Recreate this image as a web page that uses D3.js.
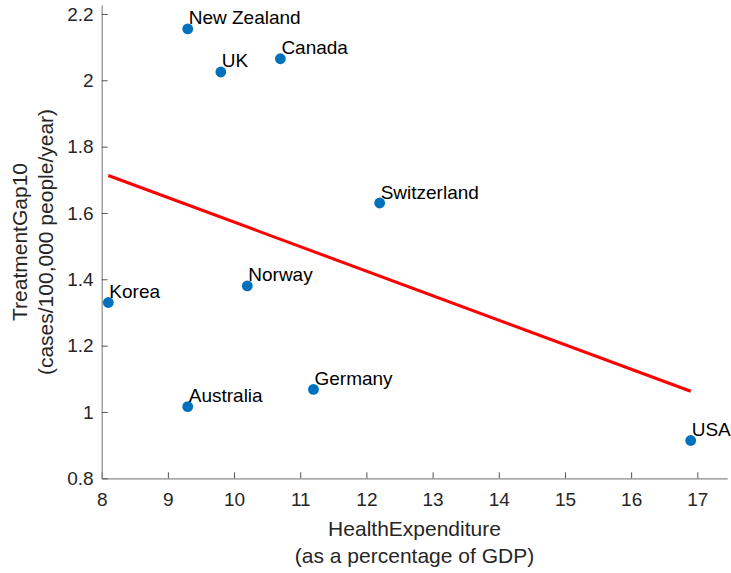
<!DOCTYPE html>
<html>
<head>
<meta charset="utf-8">
<script src="https://cdn.jsdelivr.net/npm/d3@7"></script>
<style>
  html, body { margin: 0; padding: 0; background: #fff; }
  svg { display: block; font-family: "Liberation Sans", Arial, Helvetica, sans-serif; }
</style>
</head>
<body>
<svg id="chart" width="731" height="573"></svg>
<script>
// Country data: health expenditure (% of GDP) vs treatment gap
const countries = ["New Zealand", "UK", "Canada", "Switzerland", "Norway", "Korea", "Germany", "Australia", "USA"];
const healthExpenditure = [9.3, 9.8, 10.7, 12.2, 10.2, 8.1, 11.2, 9.3, 16.9];
const treatmentGap = [2.155, 2.025, 2.065, 1.63, 1.38, 1.33, 1.068, 1.016, 0.914];
const xTicks = [8, 9, 10, 11, 12, 13, 14, 15, 16, 17];
const yTicks = [0.8, 1, 1.2, 1.4, 1.6, 1.8, 2, 2.2];

const svg = d3.select("#chart");

const x = d3.scaleLinear().domain([8, 17.453]).range([101.7, 727.3]);
const y = d3.scaleLinear().domain([0.8, 2.227]).range([478.3, 5]);

const axisColor = "#8a8a8a";
const tickTextColor = "#262626";

// X axis (ticks point inward)
const gx = svg.append("g").attr("transform", `translate(0,${y.range()[0]})`)
  .call(d3.axisBottom(x).tickValues(xTicks).tickSizeInner(-6).tickSizeOuter(0)
    .tickPadding(14).tickFormat(d3.format("d")));
gx.select(".domain").attr("stroke", axisColor).attr("stroke-width", 1.2);
gx.selectAll(".tick line").attr("stroke", "#555");
gx.selectAll(".tick text").attr("fill", tickTextColor).attr("font-size", 19)
  .attr("font-family", "Liberation Sans, Arial, sans-serif");

// Y axis (ticks point inward)
const gy = svg.append("g").attr("transform", `translate(${x.range()[0]},0)`)
  .call(d3.axisLeft(y).tickValues(yTicks).tickSizeInner(-6).tickSizeOuter(0)
    .tickPadding(8).tickFormat(d => d3.format("")(+d.toFixed(1))));
gy.select(".domain").attr("stroke", axisColor).attr("stroke-width", 1.2);
gy.selectAll(".tick line").attr("stroke", "#555");
gy.selectAll(".tick text").attr("fill", tickTextColor).attr("font-size", 19)
  .attr("font-family", "Liberation Sans, Arial, sans-serif");

// Least-squares fit line across the data range
const mx = d3.mean(healthExpenditure), my = d3.mean(treatmentGap);
const sxy = d3.sum(healthExpenditure, (v, i) => (v - mx) * (treatmentGap[i] - my));
const sxx = d3.sum(healthExpenditure, v => (v - mx) * (v - mx));
const slope = sxy / sxx, intercept = my - slope * mx;
const fitX = d3.extent(healthExpenditure);
svg.append("path")
  .datum(fitX.map(v => [v, intercept + slope * v]))
  .attr("d", d3.line().x(d => x(d[0])).y(d => y(d[1])))
  .attr("fill", "none").attr("stroke", "#ff0000").attr("stroke-width", 3);

// Points
const pts = countries.map((c, i) => ({ name: c, hx: healthExpenditure[i], ty: treatmentGap[i] }));
svg.append("g").selectAll("circle").data(pts).join("circle")
  .attr("cx", d => x(d.hx)).attr("cy", d => y(d.ty)).attr("r", 5.4)
  .attr("fill", "#0072bd");

// Country labels
svg.append("g").selectAll("text").data(pts).join("text")
  .attr("x", d => x(d.hx) + 1).attr("y", d => y(d.ty) - 4.5)
  .attr("font-size", 19).attr("fill", "#000").text(d => d.name);

// Axis titles
const xl = svg.append("text").attr("text-anchor", "middle").attr("font-size", 21).attr("fill", "#262626");
xl.append("tspan").attr("x", (x.range()[0] + x.range()[1]) / 2).attr("y", 536).text("HealthExpenditure");
xl.append("tspan").attr("x", (x.range()[0] + x.range()[1]) / 2).attr("y", 563).text("(as a percentage of GDP)");

const yc = 242;
const yl = svg.append("text").attr("text-anchor", "middle").attr("font-size", 21).attr("fill", "#262626")
  .attr("transform", `translate(0,${yc}) rotate(-90)`);
yl.append("tspan").attr("x", 0).attr("y", 27).text("TreatmentGap10");
yl.append("tspan").attr("x", 0).attr("y", 53).text("(cases/100,000 people/year)");
</script>
</body>
</html>
